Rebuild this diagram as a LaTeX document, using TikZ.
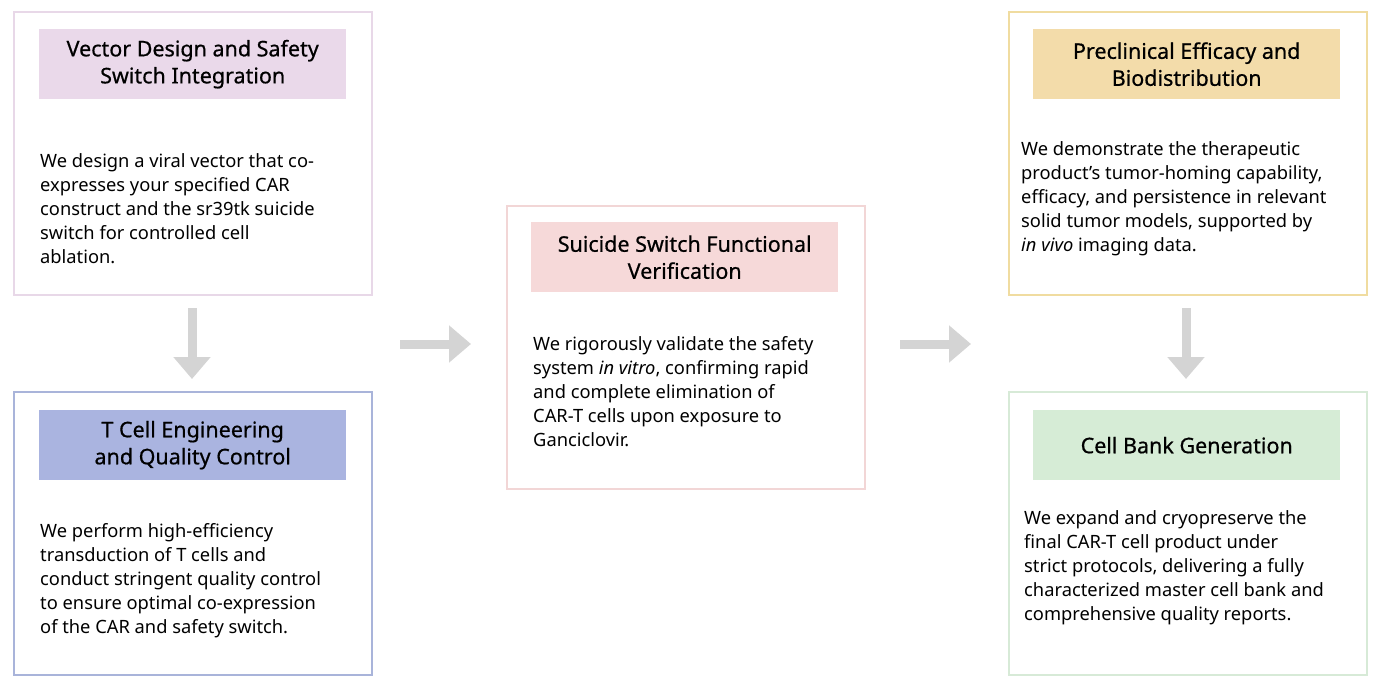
\documentclass[tikz,border=0pt]{standalone}
\usepackage{fontspec}
\setmainfont{Noto Sans}
\newfontfamily\ttlfont[FakeBold=0.6]{Noto Sans}
\usetikzlibrary{arrows.meta}
\definecolor{b1}{HTML}{E8D8E8}\definecolor{t1}{HTML}{EAD9EA}
\definecolor{b2}{HTML}{A9B4DA}\definecolor{t2}{HTML}{AAB4E0}
\definecolor{b3}{HTML}{F2D6D6}\definecolor{t3}{HTML}{F6D9D9}
\definecolor{b4}{HTML}{F0DCA0}\definecolor{t4}{HTML}{F3DCAA}
\definecolor{b5}{HTML}{D7EAD7}\definecolor{t5}{HTML}{D6ECD6}
\definecolor{arr}{HTML}{D4D4D4}
\begin{document}
\begin{tikzpicture}[x=1pt,y=-1pt,
  box/.style={draw=#1,line width=2pt,minimum width=358pt,minimum height=283pt,anchor=north west},
  ttl/.style={fill=#1,minimum width=307pt,minimum height=70pt,anchor=north west,align=center,font=\ttlfont\fontsize{21.5}{27}\selectfont,inner sep=0pt},
  body/.style={anchor=north west,align=left,font=\fontsize{18.3}{24}\selectfont,inner sep=0pt},
  ar/.style={draw=arr,line width=9pt,-{Triangle[length=22pt,width=36pt]}}]
\useasboundingbox (0,0) rectangle (1374,682);
\node[box=b1] (B1) at (13,11) {};
\node[ttl=t1] (T1) at (39,29) {Vector Design and Safety\\Switch Integration};
\node[body] (X1) at (40,153) {We design a viral vector that co-\\expresses your specified CAR\\construct and the sr39tk suicide\\switch for controlled cell\\ablation.};
\node[box=b2] (B2) at (13,391) {};
\node[ttl=t2] (T2) at (39,410) {T Cell Engineering\\and Quality Control};
\node[body] (X2) at (40,523) {We perform high-efficiency\\transduction of T cells and\\conduct stringent quality control\\to ensure optimal co-expression\\of the CAR and safety switch.};
\node[box=b3] (B3) at (506,205) {};
\node[ttl=t3] (T3) at (531,222) {Suicide Switch Functional\\Verification};
\node[body] (X3) at (533,336) {We rigorously validate the safety\\system \textit{in vitro}, confirming rapid\\and complete elimination of\\CAR-T cells upon exposure to\\Ganciclovir.};
\node[box=b4] (B4) at (1008,11) {};
\node[ttl=t4] (T4) at (1033,29) {Preclinical Efficacy and\\Biodistribution};
\node[body] (X4) at (1021,141) {We demonstrate the therapeutic\\product{\char"27}s tumor-homing capability,\\efficacy, and persistence in relevant\\solid tumor models, supported by\\\textit{in vivo} imaging data.};
\node[box=b5] (B5) at (1008,391) {};
\node[ttl=t5] (T5) at (1033,410) {Cell Bank Generation};
\node[body] (X5) at (1024,510) {We expand and cryopreserve the\\final CAR-T cell product under\\strict protocols, delivering a fully\\characterized master cell bank and\\comprehensive quality reports.};
\coordinate (a1s) at (192,308); \coordinate (a1e) at (192,379);
\coordinate (a2s) at (400,344); \coordinate (a2e) at (471,344);
\coordinate (a3s) at (900,344); \coordinate (a3e) at (971,344);
\coordinate (a4s) at (1186,308); \coordinate (a4e) at (1186,379);
\draw[ar] (a1s) -- (a1e);
\draw[ar] (a2s) -- (a2e);
\draw[ar] (a3s) -- (a3e);
\draw[ar] (a4s) -- (a4e);
\end{tikzpicture}
\end{document}
